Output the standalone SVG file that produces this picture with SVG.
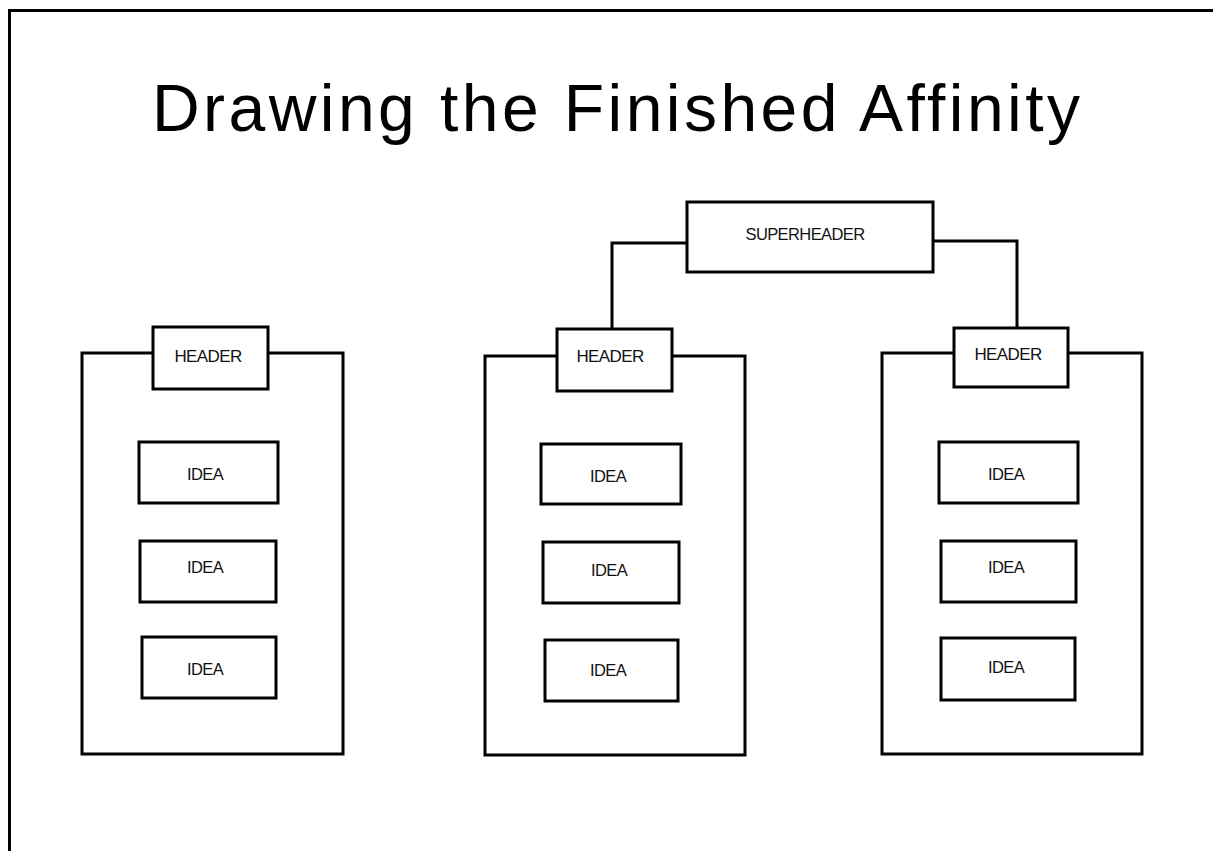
<svg xmlns="http://www.w3.org/2000/svg" width="1213" height="851" viewBox="0 0 1213 851">
<style>
.ln{fill:none;stroke:#000;stroke-width:3;stroke-linejoin:miter}
.bx{fill:#fff;stroke:#000;stroke-width:3}
.t{font-family:"Liberation Sans",Arial,sans-serif;fill:#111;text-anchor:middle;letter-spacing:-0.6px}
.hd{font-size:17px}
.id{font-size:16.5px}
</style>
<rect width="1213" height="851" fill="#fff"/>
<path class="ln" d="M9.5,851 V10.5 H1213"/>
<text x="152" y="131" font-family="Liberation Sans,Arial,sans-serif" font-size="66" fill="#000" textLength="928" lengthAdjust="spacing">Drawing the Finished Affinity</text>
<g id="connectors">
<path class="ln" d="M687,243 H612 V329"/>
<path class="ln" d="M933,241 H1017 V328"/>
</g>
<g id="superheader">
<rect class="bx" x="687" y="202" width="246" height="70"/>
<text class="t hd" x="805" y="240" style="font-size:16.5px">SUPERHEADER</text>
</g>
<g id="group-left">
<path class="ln" d="M153,353 H82 V754 H343 V353 H268"/>
</g>
<g id="header-left">
<rect class="bx" x="153" y="327" width="115" height="62"/>
<text class="t hd" x="208" y="362">HEADER</text>
</g>
<g id="idea-left-1"><rect class="bx" x="139" y="442" width="139" height="61"/><text class="t id" x="205" y="480">IDEA</text></g>
<g id="idea-left-2"><rect class="bx" x="140" y="541" width="136" height="61"/><text class="t id" x="205" y="573">IDEA</text></g>
<g id="idea-left-3"><rect class="bx" x="142" y="637" width="134" height="61"/><text class="t id" x="205" y="675">IDEA</text></g>
<g id="group-middle">
<path class="ln" d="M557,356 H485 V755 H745 V356 H672"/>
</g>
<g id="header-middle">
<rect class="bx" x="557" y="329" width="115" height="62"/>
<text class="t hd" x="610" y="362">HEADER</text>
</g>
<g id="idea-middle-1"><rect class="bx" x="541" y="444" width="140" height="60"/><text class="t id" x="608" y="482">IDEA</text></g>
<g id="idea-middle-2"><rect class="bx" x="543" y="542" width="136" height="61"/><text class="t id" x="609" y="576">IDEA</text></g>
<g id="idea-middle-3"><rect class="bx" x="545" y="640" width="133" height="61"/><text class="t id" x="608" y="676">IDEA</text></g>
<g id="group-right">
<path class="ln" d="M954,353 H882 V754 H1142 V353 H1068"/>
</g>
<g id="header-right">
<rect class="bx" x="954" y="328" width="114" height="59"/>
<text class="t hd" x="1008" y="360">HEADER</text>
</g>
<g id="idea-right-1"><rect class="bx" x="939" y="442" width="139" height="61"/><text class="t id" x="1006" y="480">IDEA</text></g>
<g id="idea-right-2"><rect class="bx" x="941" y="541" width="135" height="61"/><text class="t id" x="1006" y="573">IDEA</text></g>
<g id="idea-right-3"><rect class="bx" x="941" y="638" width="134" height="62"/><text class="t id" x="1006" y="673">IDEA</text></g>
</svg>
